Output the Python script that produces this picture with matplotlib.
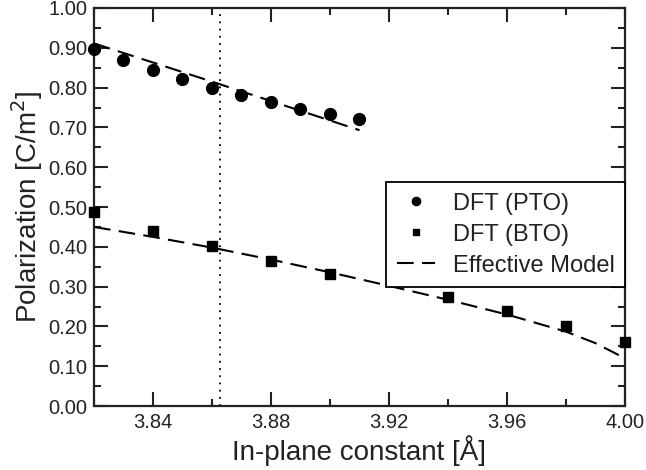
import matplotlib
matplotlib.use("Agg")
import matplotlib.pyplot as plt
import numpy as np
from matplotlib.ticker import MultipleLocator, FormatStrFormatter

# DFT data (PTO)
pto_a = [3.82, 3.83, 3.84, 3.85, 3.86, 3.87, 3.88, 3.89, 3.90, 3.91]
pto_p = [0.898, 0.869, 0.844, 0.821, 0.800, 0.781, 0.763, 0.747, 0.733, 0.721]

# DFT data (BTO)
bto_a = [3.82, 3.84, 3.86, 3.88, 3.90, 3.94, 3.96, 3.98, 4.00]
bto_p = [0.488, 0.439, 0.402, 0.365, 0.333, 0.273, 0.239, 0.201, 0.161]

# effective model curves
mod_pto_a = [3.82, 3.86, 3.91]
mod_pto_p = [0.911, 0.815, 0.693]
mod_bto_a = [3.82, 3.84, 3.86, 3.88, 3.90, 3.92, 3.94, 3.96, 3.98, 3.99, 4.00]
mod_bto_p = [0.450, 0.425, 0.398, 0.368, 0.336, 0.302, 0.267, 0.230, 0.187, 0.158, 0.120]

a_vline = 3.8627

plt.rcParams['font.family'] = ['Liberation Sans', 'DejaVu Sans']

fig = plt.figure(figsize=(6.46, 4.70), dpi=100)
ax = fig.add_axes([0.1455, 0.136, 0.822, 0.847])

dash = (0, (8, 4))
ax.plot(mod_pto_a, mod_pto_p, color='black', lw=1.5, linestyle=dash)
ax.plot(mod_bto_a, mod_bto_p, color='black', lw=1.5, linestyle=dash,
        label='Effective Model')
ax.plot(pto_a, pto_p, 'o', color='black', ms=8.5, clip_on=False, zorder=5,
        label='DFT (PTO)')
ax.plot(bto_a, bto_p, 's', color='black', ms=7, clip_on=False, zorder=5,
        label='DFT (BTO)')
ax.axvline(a_vline, color='black', lw=1.3, linestyle=(0, (1, 3)))

ax.set_xlim(3.82, 4.00)
ax.set_ylim(0.0, 1.0)
ax.set_xticks([3.84, 3.88, 3.92, 3.96, 4.00])
ax.xaxis.set_minor_locator(MultipleLocator(0.02))
ax.yaxis.set_major_locator(MultipleLocator(0.1))
ax.yaxis.set_minor_locator(MultipleLocator(0.05))
ax.xaxis.set_major_formatter(FormatStrFormatter('%.2f'))
ax.yaxis.set_major_formatter(FormatStrFormatter('%.2f'))

ax.tick_params(which='both', direction='in', top=True, right=True,
               width=1.5, labelsize=14.5, colors='#222222')
ax.tick_params(which='major', length=10, pad=5)
ax.tick_params(which='minor', length=5)
for s in ax.spines.values():
    s.set_linewidth(1.6)
    s.set_color('#222222')

ax.set_xlabel('In-plane constant [Å]', fontsize=20, color='#222222', labelpad=2)
ax.set_ylabel('Polarization [C/m$^2$]', fontsize=20, color='#222222', labelpad=2)

h, l = ax.get_legend_handles_labels()
order = [1, 2, 0]
leg = ax.legend([h[i] for i in order], [l[i] for i in order],
                loc='upper right', bbox_to_anchor=(1.0, 0.563),
                borderaxespad=0, fancybox=False, framealpha=1,
                edgecolor='black', fontsize=17, handlelength=1.6,
                handletextpad=0.75, markerscale=0.7,
                labelspacing=0.38, borderpad=0.45)
leg.get_frame().set_linewidth(1.3)
for t in leg.get_texts():
    t.set_color('#222222')

fig.savefig('out.png', dpi=100)
